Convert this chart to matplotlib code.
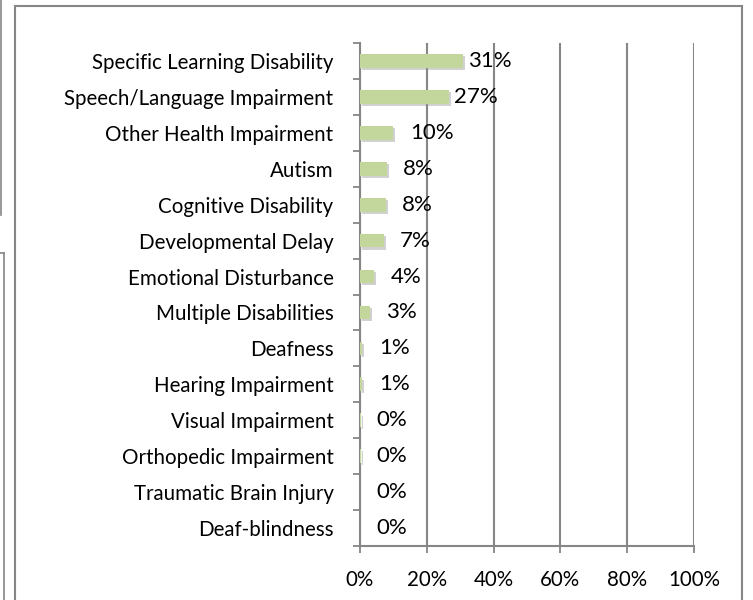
import matplotlib

matplotlib.use("Agg")
import matplotlib.pyplot as plt
import matplotlib.patheffects as pe
from matplotlib.lines import Line2D
from matplotlib.patches import Rectangle
from matplotlib.ticker import MultipleLocator, PercentFormatter
import numpy as np

# Datos (de arriba hacia abajo, como en la imagen)
categorias = [
    "Specific Learning Disability",
    "Speech/Language Impairment",
    "Other Health Impairment",
    "Autism",
    "Cognitive Disability",
    "Developmental Delay",
    "Emotional Disturbance",
    "Multiple Disabilities",
    "Deafness",
    "Hearing Impairment",
    "Visual Impairment",
    "Orthopedic Impairment",
    "Traumatic Brain Injury",
    "Deaf-blindness",
]
valores = [0.308, 0.266, 0.099, 0.08, 0.078, 0.071, 0.041, 0.031, 0.006, 0.006, 0.002, 0.002, 0.001, 0.0]
etiquetas = ["31%", "27%", "10%", "8%", "8%", "7%", "4%", "3%", "1%", "1%", "0%", "0%", "0%", "0%"]

# desplazamiento de cada etiqueta respecto al final de la barra (pixeles)
desplazamiento = [5, 5, 17, 16, 16, 16, 17, 16, 17, 17, 16, 16, 16, 16]

GRIS = "#868686"
VERDE = "#c3d69b"
TAM = 14.8
TAM_VALOR = 16
plt.rcParams["font.family"] = ["Lato", "DejaVu Sans"]

fig = plt.figure(figsize=(7.53, 6.0), dpi=100)
ax = fig.add_axes([360 / 753, 54 / 600, 334 / 753, 503 / 600])

y = np.arange(len(categorias))
barras = ax.barh(y, valores, height=0.38, color=VERDE, zorder=3)
for b in barras:
    b.set_path_effects([pe.SimplePatchShadow(offset=(1.5, -1.5), shadow_rgbFace="#999999", alpha=0.45), pe.Normal()])

for yi, v, txt, d in zip(y, valores, etiquetas, desplazamiento):
    ax.annotate(txt, (v, yi), xytext=(d * 0.72, 0), textcoords="offset points",
                ha="left", va="center", fontsize=TAM_VALOR, color="black", zorder=4)

ax.set_xlim(0, 1)
ax.set_ylim(len(categorias) - 0.5, -0.5)
ax.xaxis.set_major_locator(MultipleLocator(0.2))
ax.xaxis.set_major_formatter(PercentFormatter(1.0, decimals=0))
ax.grid(axis="x", color=GRIS, linewidth=1.5, zorder=0)

ax.set_yticks(y)
ax.set_yticklabels(categorias)
ax.set_yticks(np.arange(len(categorias) + 1) - 0.5, minor=True)
ax.tick_params(axis="y", which="major", length=0, pad=19, labelsize=TAM)
ax.tick_params(axis="y", which="minor", length=5, width=1.3, color=GRIS, direction="out")
ax.tick_params(axis="x", length=5, width=1.3, color=GRIS, pad=12, labelsize=TAM)

for lado in ["top", "right"]:
    ax.spines[lado].set_visible(False)
for lado in ["left", "bottom"]:
    ax.spines[lado].set_color(GRIS)
    ax.spines[lado].set_linewidth(1.5)

# marco del grafico y restos de otras formas en el borde izquierdo
def px(x0, y0):
    return x0 / 753, 1 - y0 / 600

fig.patches.append(Rectangle(px(14.5, 700), 727 / 753, 694 / 600, transform=fig.transFigure,
                             fill=False, edgecolor=GRIS, linewidth=1.5))
for (xa, ya), (xb, yb) in [((0.5, 0), (0.5, 215)), ((0, 253), (3.5, 253)), ((3.5, 253), (3.5, 600))]:
    (x1, y1), (x2, y2) = px(xa, ya), px(xb, yb)
    fig.lines.append(Line2D([x1, x2], [y1, y2], transform=fig.transFigure, color=GRIS, linewidth=1.2))

fig.savefig("out.png", dpi=100)
